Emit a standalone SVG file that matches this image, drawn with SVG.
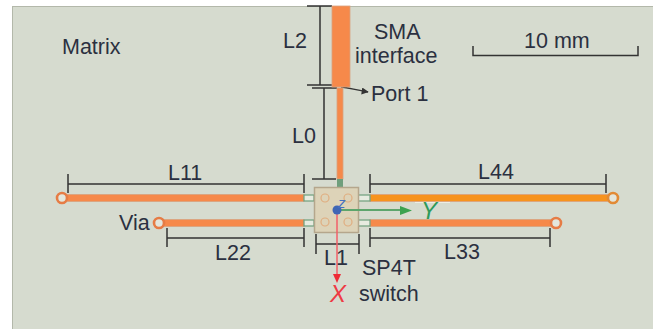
<svg xmlns="http://www.w3.org/2000/svg" width="653" height="329" viewBox="0 0 653 329">
<style>
text{font-family:"Liberation Sans",Arial,sans-serif;font-size:21.500px;fill:#2b3040}
.d{stroke:#333;stroke-width:1.5;fill:none}
.t{fill:#f6894a;stroke:#d9a27f;stroke-width:.8}
.s{fill:#6f9f7c}
.v{fill:#e4e6dc;stroke:#e67c45;stroke-width:2.6}
.h{fill:none;stroke:#e0ae80;stroke-width:1.2}
.p{fill:#e7ebe0;stroke:#6f9f7c;stroke-width:1.2}
</style>
<defs>
<marker id="k" viewBox="0 0 10 10" refX="9" refY="5" markerWidth="10" markerHeight="7" orient="auto" markerUnits="userSpaceOnUse"><path d="M0 0L10 5L0 10z" fill="#333"/></marker>
</defs>
<rect width="653" height="329" fill="#fff"/>
<rect x="12.500" y="6.500" width="641" height="323" fill="#d6dbcf" stroke="#b3b8aa"/>
<rect x="415" y="200" width="35" height="3" fill="#eceee6"/>
<g id="connectors">
<path class="d" d="M320 6V85M307 6H332M307 85H332M324 88V179M312 88H337M312 179H336"/>
<path class="d" d="M68 174V193M304 174V193M68 184H304M370 174V193M606 174V193M370 184H606"/>
<path class="d" d="M167 228V247M304 228V247M167 238H304M370 228V247M550 228V247M370 238H550"/>
<path class="d" d="M316 234V254M359 234V254M316 244H359"/>
<path class="d" d="M473 46V55.500H638V46"/>
<path d="M341 87C350 88 355 90 368 92" fill="none" stroke="#333" stroke-width="1.300" marker-end="url(#k)"/>
</g>
<g id="sma"><rect class="t" x="332" y="6" width="18" height="81"/><rect class="t" x="337" y="88" width="6" height="91"/><rect class="s" x="337" y="179" width="6" height="8"/></g>
<g id="line-l11"><rect class="t" x="67" y="194.500" width="237" height="7"/><circle class="v" cx="62" cy="198" r="5"/><rect class="p" x="304" y="195" width="10" height="6"/></g>
<g id="line-l22"><rect class="t" x="163" y="219.500" width="141" height="7"/><circle class="v" cx="159" cy="223" r="5"/><rect class="p" x="304" y="220" width="10" height="6"/></g>
<g id="line-l44"><rect class="t" x="370" y="194.500" width="238" height="7" style="fill:#f7931e"/><circle class="v" cx="613" cy="198" r="5" style="stroke:#e28a35"/><rect class="p" x="358" y="195" width="12" height="6"/></g>
<g id="line-l33"><rect class="t" x="370" y="219.500" width="182" height="7"/><circle class="v" cx="556" cy="223" r="5"/><rect class="p" x="358" y="220" width="12" height="6"/></g>
<g id="switch">
<rect x="314.500" y="187.500" width="44" height="45" fill="#ddd3b8" stroke="#b5a68c" stroke-width="1.500"/>
<circle class="h" cx="325" cy="198" r="4"/><circle class="h" cx="348" cy="198" r="4"/><circle class="h" cx="325" cy="222" r="4"/><circle class="h" cx="348" cy="222" r="4"/>
<path d="M337 210H407" stroke="#5da56c" stroke-width="1.800"/><path d="M412 210.500L400 206V215z" fill="#3ba24f"/>
<path d="M337 210V277" stroke="#f0606a" stroke-width="1.500"/><path d="M337 283L333 274H341z" fill="#ee2b36"/>
<circle cx="337" cy="210" r="4.500" fill="#3f66b5"/>
<text x="338" y="208" style="font-size:15px;font-style:italic;fill:#4470c0">z</text>
</g>
<g id="labels">
<text x="62" y="54">Matrix</text>
<text x="374" y="39">SMA</text>
<text x="355" y="63">interface</text>
<text x="371" y="101">Port 1</text>
<text x="283" y="48">L2</text>
<text x="292" y="143">L0</text>
<text x="168" y="180">L11</text>
<text x="478" y="179">L44</text>
<text x="119" y="230">Via</text>
<text x="215" y="260">L22</text>
<text x="444" y="259">L33</text>
<text x="324" y="265">L1</text>
<text x="362" y="275">SP4T</text>
<text x="359" y="301">switch</text>
<text x="524" y="48">10 mm</text>
<text x="421" y="219" style="font-size:24px;font-style:italic;fill:#2f9a5a">Y</text>
<text x="330" y="302" style="font-size:24px;font-style:italic;fill:#ee3a44">X</text>
</g>
</svg>
